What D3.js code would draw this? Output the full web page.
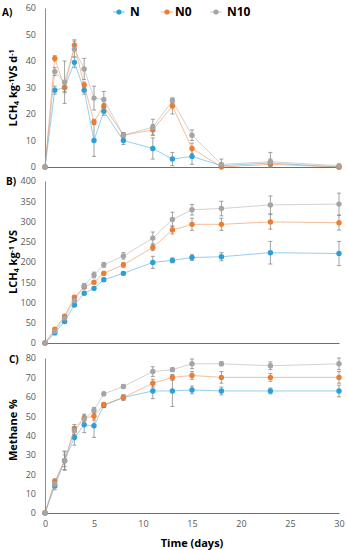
<!DOCTYPE html>
<html>
<head>
<meta charset="utf-8">
<script src="https://cdn.jsdelivr.net/npm/d3@7"></script>
<style>
  body { margin: 0; background: #fff; }
  svg text { font-family: "Open Sans", "Liberation Sans", sans-serif; }
</style>
</head>
<body>
<div id="chart"></div>
<script>
// Time points (days)
const days = [0, 1, 2, 3, 4, 5, 6, 8, 11, 13, 15, 18, 23, 30];
const seriesNames = ['N', 'N0', 'N10'];
const xTicks = [0, 5, 10, 15, 20, 25, 30];

// A) daily methane yield
const rateN   = [0, 29, 30, 39.5, 29, 10, 21, 10, 7, 3, 4, 0.5, 1.5, 0];
const rateN0  = [0, 41, 30, 46, 31, 17, 23, 12, 14, 23, 7, 0, 1, 0];
const rateN10 = [0, 36, 32, 44.5, 37, 26, 25.5, 12, 15, 25, 12, 1, 2, 0.5];
const rateNErr   = [0, 1.5, 2, 2, 1.5, 6, 1.5, 1.5, 4, 2.5, 3, 0.5, 1, 0];
const rateN0Err  = [0, 1, 1.5, 2, 1, 1, 1, 1, 2, 3, 2, 0.3, 2, 0];
const rateN10Err = [0, 1.5, 8, 3, 4, 4.5, 3, 1, 3, 1, 2, 2, 3.5, 0.5];

// B) cumulative methane yield
const cumN   = [0, 25, 53, 94, 123, 135, 156, 172, 199, 204, 211, 213, 223, 221];
const cumN0  = [0, 34, 66, 113, 138, 150, 172, 193, 236, 279, 293, 293, 299, 297];
const cumN10 = [0, 29, 62, 105, 141, 168, 193, 215, 259, 305, 329, 332, 341, 343];
const cumNErr   = [0, 3, 4, 4, 4, 4, 4, 4, 15, 6, 7, 10, 28, 30];
const cumN0Err  = [0, 3, 4, 4, 4, 4, 5, 6, 8, 10, 15, 15, 18, 18];
const cumN10Err = [0, 3, 6, 6, 6, 7, 6, 8, 15, 18, 13, 18, 22, 27];

// C) methane content
const ch4N   = [0, 14, 27, 39, 45.5, 45, 55.5, 59.6, 63, 63, 63.5, 63, 63, 63];
const ch4N0  = [0, 16.5, 27, 43.7, 49, 50, 56, 59.6, 67, 70, 71, 70, 70, 70];
const ch4N10 = [0, 15, 27, 42.5, 48.5, 53, 61.5, 65.3, 73, 74, 77, 77, 76, 77];
const ch4NErr   = [0, 2, 4.5, 4, 4, 6, 1, 1.5, 4, 8, 2, 2, 1.5, 3];
const ch4N0Err  = [0, 1, 3, 2, 2, 2, 1, 1, 2, 1.5, 2, 3, 2, 3];
const ch4N10Err = [0, 1.5, 5, 2, 2, 1.5, 1, 1, 2.5, 1, 2.5, 1, 2, 3];

const colors = { N: '#2b9fd9', N0: '#ef7d2f', N10: '#a5a5a5' };

let width = 347, height = 550;
let svg = d3.select('#chart').append('svg')
  .attr('width', width)
  .attr('height', height);

let xScale = d3.scaleLinear().domain([0, 30]).range([45, 339]);

let panels = [
  { label: 'A)', top: 8, bottom: 167, max: 60, step: 10, labelY: 12,
    series: [[rateN, rateNErr], [rateN0, rateN0Err], [rateN10, rateN10Err]] },
  { label: 'B)', top: 181, bottom: 343, max: 400, step: 50, labelY: 181,
    series: [[cumN, cumNErr], [cumN0, cumN0Err], [cumN10, cumN10Err]] },
  { label: 'C)', top: 358, bottom: 513, max: 80, step: 10, labelY: 359,
    series: [[ch4N, ch4NErr], [ch4N0, ch4N0Err], [ch4N10, ch4N10Err]] }
];

panels.forEach(function(p, pi) {
  let yScale = d3.scaleLinear().domain([0, p.max]).range([p.bottom, p.top]);
  let g = svg.append('g');

  // y axis
  let yAxis = g.append('g')
    .attr('transform', 'translate(45,0)')
    .call(d3.axisLeft(yScale).tickValues(d3.range(0, p.max + 1, p.step)).tickSize(0).tickPadding(9));
  yAxis.select('.domain').attr('stroke', '#8c8c8c').attr('stroke-width', 1);
  yAxis.selectAll('text').attr('fill', '#595959').style('font-size', '9px');

  // x axis
  let xAxis = g.append('g')
    .attr('transform', `translate(0,${p.bottom})`)
    .call(d3.axisBottom(xScale).tickValues(xTicks).tickSize(0).tickPadding(8));
  xAxis.select('.domain').attr('stroke', '#6e6e6e').attr('stroke-width', 1.2);
  if (pi < 2) xAxis.selectAll('text').remove();
  else xAxis.selectAll('text').attr('fill', '#595959').style('font-size', '9px');

  // panel label
  g.append('text')
    .attr('x', pi === 0 ? 2 : (pi === 1 ? 6 : 9))
    .attr('y', p.labelY)
    .attr('dy', '0.35em')
    .style('font-size', '10px')
    .style('font-weight', 'bold')
    .attr('fill', '#000')
    .text(p.label);

  // series
  p.series.forEach(function(s, si) {
    let name = seriesNames[si];
    let vals = s[0], errs = s[1];
    let pts = days.map((d, i) => ({ d: d, v: vals[i], e: errs[i] }));

    g.append('path')
      .datum(pts)
      .attr('fill', 'none')
      .attr('stroke', colors[name])
      .attr('stroke-opacity', 0.5)
      .attr('stroke-width', 1)
      .attr('d', d3.line().x(d => xScale(d.d)).y(d => yScale(d.v)));

    let eb = g.append('g').selectAll('g')
      .data(pts.filter(d => d.e > 0))
      .enter().append('g')
      .attr('stroke', '#8a8a8a')
      .attr('stroke-width', 0.8);
    eb.append('line')
      .attr('x1', d => xScale(d.d)).attr('x2', d => xScale(d.d))
      .attr('y1', d => yScale(Math.max(0, d.v - d.e))).attr('y2', d => yScale(d.v + d.e));
    eb.append('line')
      .attr('x1', d => xScale(d.d) - 2).attr('x2', d => xScale(d.d) + 2)
      .attr('y1', d => yScale(d.v + d.e)).attr('y2', d => yScale(d.v + d.e));
    eb.append('line')
      .attr('x1', d => xScale(d.d) - 2).attr('x2', d => xScale(d.d) + 2)
      .attr('y1', d => yScale(Math.max(0, d.v - d.e))).attr('y2', d => yScale(Math.max(0, d.v - d.e)));

    g.append('g').selectAll('circle')
      .data(pts)
      .enter().append('circle')
      .attr('cx', d => xScale(d.d))
      .attr('cy', d => yScale(d.v))
      .attr('r', 2.7)
      .attr('fill', colors[name]);
  });
});

// y axis titles
function yTitle(cx, cy, parts) {
  let t = svg.append('text')
    .attr('transform', `translate(${cx},${cy}) rotate(-90)`)
    .attr('text-anchor', 'middle')
    .style('font-size', '11px')
    .style('font-weight', 'bold')
    .attr('fill', '#000');
  parts.forEach(function(p) {
    let ts = t.append('tspan').text(p[0]);
    if (p[1] === 'sub') ts.attr('baseline-shift', '-25%').style('font-size', '7px');
    if (p[1] === 'sup') ts.attr('baseline-shift', '40%').style('font-size', '7px');
  });
}
yTitle(17, 88, [['LCH', ''], ['4', 'sub'], ['  kg', ''], ['-1', 'sup'], ['VS d', ''], ['-1', 'sup']]);
yTitle(17, 262, [['LCH', ''], ['4', 'sub'], [' kg', ''], ['-1', 'sup'], [' VS', '']]);
yTitle(17, 430, [['Methane %', '']]);

// x axis title
svg.append('text')
  .attr('x', 192).attr('y', 543)
  .attr('text-anchor', 'middle')
  .attr('dy', '0.35em')
  .style('font-size', '11px')
  .style('font-weight', 'bold')
  .text('Time (days)');

// legend
let legendX = [113, 161, 210];
let legend = svg.append('g');
seriesNames.forEach(function(name, i) {
  let lg = legend.append('g').attr('transform', `translate(${legendX[i]},12)`);
  lg.append('line').attr('x1', 0).attr('x2', 12).attr('stroke', colors[name]).attr('stroke-opacity', 0.6).attr('stroke-width', 1);
  lg.append('circle').attr('cx', 6).attr('r', 2.6).attr('fill', colors[name]);
  lg.append('text').attr('x', i === 0 ? 17 : (i === 1 ? 14 : 17)).attr('dy', '0.35em')
    .style('font-size', '12px').style('font-weight', 'bold').attr('fill', '#000').text(name);
});
</script>
</body>
</html>
